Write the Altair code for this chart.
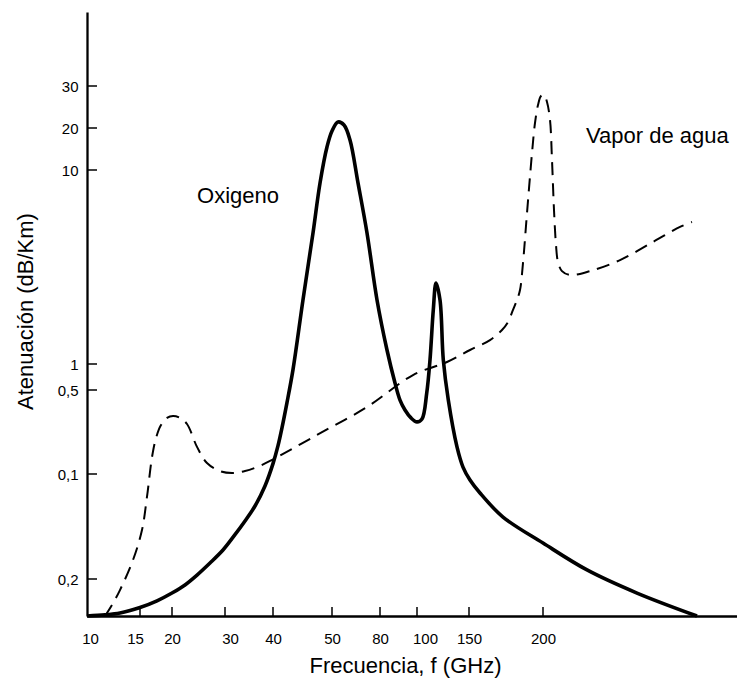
import altair as alt
import pandas as pd

# ---------------- data ----------------
oxy_f = [10, 11.7, 13.11, 15, 17.66, 20, 22.45, 24.72, 27.17, 29.62, 31.88, 34.17, 36.25,
         38.33, 40, 40.85, 41.53, 42.37, 43.39, 45.08, 46.78, 47.97, 49.15, 50, 53.75,
         57.5, 61.25, 66.25, 71.88, 78.13, 83.78, 88.11, 90.81, 93.51, 96.76, 100, 104.81,
         109.33, 112.5, 115.67, 118.27, 122.12, 125.29, 130.1, 138.46, 144.23,
         150.68, 157.43, 172.97, 200, 222.68, 248.45, 279.38]
oxy_a = [0.01, 0.0103, 0.0108, 0.0123, 0.0141, 0.0162, 0.0184, 0.023, 0.0322, 0.0421,
         0.0528, 0.0642, 0.0756, 0.0909, 0.1495, 0.235, 0.321, 0.44, 0.892, 3.97, 7.08,
         9.40, 15.48, 19.29, 21.43, 20.71, 17.14, 9.40, 7.08, 3.97, 1.65, 0.635, 0.452,
         0.405, 0.367, 0.348, 0.362, 0.484, 1.19, 3.51, 4.76, 3.97, 1.19, 0.452,
         0.229, 0.133, 0.0954, 0.0855, 0.0672, 0.0474, 0.0269, 0.0162, 0.01]

h2o_f = [11.7, 12.36, 13.11, 14.34, 15.31, 16.09, 16.88, 17.5, 18.28, 19.22, 20.19, 21.51,
         22.83, 24.72, 26.6, 29.06, 31.46, 34.17, 36.67, 39.38, 47.46, 71.88, 97.84,
         128.85, 150.68, 164.19, 172.3, 176.35, 179.73, 182.43, 184.46, 186.49, 189.19,
         192.57, 194.59, 196.62, 198.65, 200.52, 202.06, 203.61, 204.64, 205.67, 206.7,
         207.73, 209.79, 213.92, 224.23, 239.69, 256.7, 270.62, 276.8]
h2o_a = [0.01, 0.013, 0.017, 0.0345, 0.0573, 0.0825, 0.181, 0.271, 0.333, 0.367, 0.376,
         0.367, 0.338, 0.229, 0.152, 0.114, 0.105, 0.114, 0.133, 0.162, 0.286, 0.419,
         0.788, 1.093, 1.65, 2.11, 2.58, 2.95, 3.51, 3.97, 4.43, 5.69, 8.0, 14.05, 21.19,
         25.48, 27.62, 27.86, 26.19, 21.9, 12.38, 8.14, 6.52, 5.73, 5.31, 5.13, 5.31,
         5.82, 6.66, 7.36, 7.59]

x_tick_values = [10, 15, 20, 30, 40, 50, 80, 100, 150, 200]
x_tick_labels = ["10", "15", "20", "30", "40", "50", "80", "100", "150", "200"]
x_tick_marks = [15, 20, 30, 40, 50, 80, 100, 150, 200]

y_tick_values = [0.02, 0.1, 0.5, 1, 10, 20, 30]
y_tick_labels = ["0,2", "0,1", "0,5", "1", "10", "20", "30"]

ann_text = ["Oxigeno", "Vapor de agua"]
ann_f = [24.72, 222.16]
ann_a = [8.47, 16.43]

# ---------------- schematic (piecewise) scales ----------------
W, H = 650, 604
x_scale = alt.Scale(domain=[10, 15, 20, 30, 40, 50, 80, 100, 150, 200, 300],
                    range=[0, 53, 85, 138, 186, 245, 293, 330, 382, 456, 650],
                    nice=False, zero=False)
y_scale = alt.Scale(domain=[0.01, 0.02, 0.1, 0.5, 1, 10, 20, 30, 50],
                    range=[604, 567, 462, 378, 352, 158, 116, 74, 0],
                    nice=False, zero=False)

def label_expr(values, labels):
    expr = "''"
    for v, l in reversed(list(zip(values, labels))):
        expr = f"datum.value == {v} ? '{l}' : ({expr})"
    return expr

FONT = "Liberation Sans"

oxy = pd.DataFrame({"f": oxy_f, "a": oxy_a})
h2o = pd.DataFrame({"f": h2o_f, "a": h2o_a})
ann = pd.DataFrame({"t": ann_text, "f": ann_f, "a": ann_a})
xt = pd.DataFrame({"f": x_tick_marks})
yt = pd.DataFrame({"a": y_tick_values})

x_label_offset = {
    "condition": [
        {"test": "datum.value == 10", "value": 3},
        {"test": "datum.value == 15", "value": -5},
        {"test": "datum.value == 30", "value": 5},
        {"test": "datum.value == 100", "value": 8},
    ],
    "value": 0,
}

x_axis = alt.Axis(values=x_tick_values, labelExpr=label_expr(x_tick_values, x_tick_labels),
                  ticks=False, grid=False, labelPadding=15, labelFontSize=15,
                  labelOffset=x_label_offset,
                  labelFont=FONT, labelColor="black", domainColor="black", domainWidth=2.3,
                  title="Frecuencia, f (GHz)", titleFont=FONT, titleFontSize=22,
                  titleFontWeight="normal", titleColor="black", titleX=318, titleY=56,
                  titleBaseline="alphabetic", labelFlush=False)
y_axis = alt.Axis(values=y_tick_values, labelExpr=label_expr(y_tick_values, y_tick_labels),
                  ticks=False, grid=False, labelPadding=9, labelFontSize=15,
                  labelFont=FONT, labelColor="black", domainColor="black", domainWidth=2.3,
                  title="Atenuación (dB/Km)", titleFont=FONT, titleFontSize=22,
                  titleFontWeight="normal", titleColor="black", titleX=-55, titleY=299,
                  titleBaseline="alphabetic", titleAngle=270, labelFlush=False)

solid = alt.Chart(oxy).mark_line(color="black", strokeWidth=3.6,
                                 interpolate="catmull-rom").encode(
    x=alt.X("f:Q", scale=x_scale, axis=x_axis),
    y=alt.Y("a:Q", scale=y_scale, axis=y_axis),
    order=alt.Order("f:Q"),
)
dashed = alt.Chart(h2o).mark_line(color="black", strokeWidth=2, strokeDash=[13, 8],
                                  interpolate="catmull-rom").encode(
    x=alt.X("f:Q", scale=x_scale), y=alt.Y("a:Q", scale=y_scale), order=alt.Order("f:Q"))

xticks = alt.Chart(xt).mark_rule(color="black", strokeWidth=1.5).encode(
    x=alt.X("f:Q", scale=x_scale), y=alt.value(H), y2=alt.value(H - 9))
yticks = alt.Chart(yt).mark_rule(color="black", strokeWidth=1.5).encode(
    y=alt.Y("a:Q", scale=y_scale), x=alt.value(0), x2=alt.value(10))

labels = alt.Chart(ann).mark_text(align="left", baseline="alphabetic", font=FONT,
                                  fontSize=22, color="black").encode(
    x=alt.X("f:Q", scale=x_scale), y=alt.Y("a:Q", scale=y_scale), text="t:N")

chart = alt.layer(dashed, solid, xticks, yticks, labels).properties(
    width=W, height=H,
    autosize=alt.AutoSizeParams(type="none"),
    padding={"left": 87, "top": 12, "right": 0, "bottom": 64},
    background="white",
).configure_view(stroke=None)

chart.save("out.html", embed_options={"renderer": "svg", "actions": False})
